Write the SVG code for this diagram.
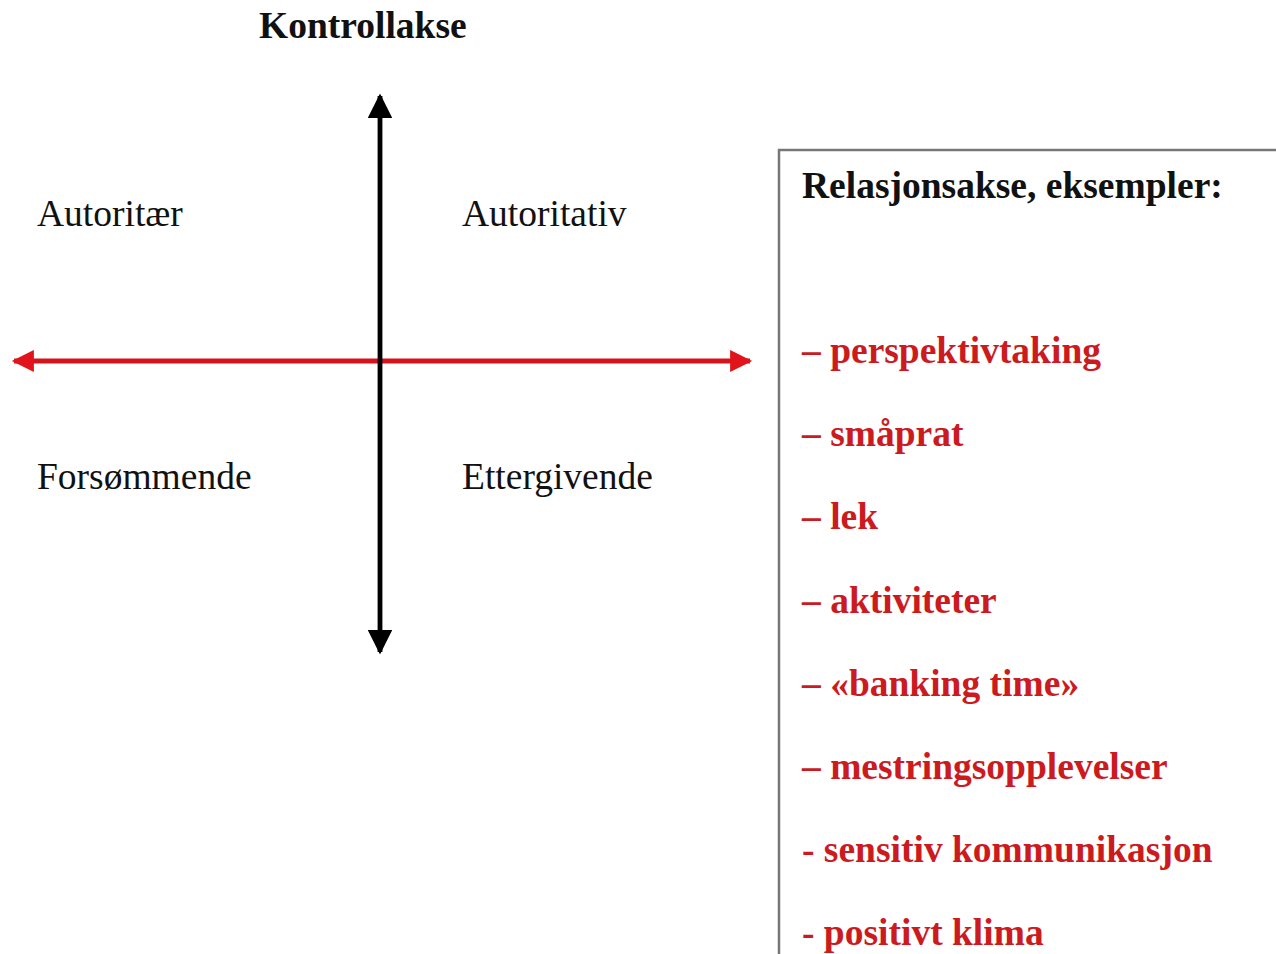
<svg xmlns="http://www.w3.org/2000/svg" width="1276" height="954" viewBox="0 0 1276 954">
<style>
.t{font-family:"Liberation Serif","Times New Roman",serif;font-size:37.5px;fill:#111}
.b{font-weight:bold}
.r{font-family:"Liberation Serif","Times New Roman",serif;font-size:37.5px;font-weight:bold;fill:#cc1b1f}
</style>
<defs>
<marker id="ab" viewBox="0 0 10 10" refX="9" refY="5" markerWidth="5.2" markerHeight="5.2" orient="auto-start-reverse" markerUnits="strokeWidth"><path d="M0,0 L10,5 L0,10 z" fill="#000"/></marker>
<marker id="ar" viewBox="0 0 10 10" refX="9" refY="5" markerWidth="5" markerHeight="4.6" orient="auto-start-reverse" markerUnits="strokeWidth"><path d="M0,0 L10,5 L0,10 z" fill="#e0141a"/></marker>
</defs>
<rect width="1276" height="954" fill="#fff"/>
<g id="connectors">
<line x1="14" y1="361" x2="750" y2="361" stroke="#d4141a" stroke-width="4.8" marker-start="url(#ar)" marker-end="url(#ar)"/>
<line x1="380" y1="96" x2="380" y2="652" stroke="#000" stroke-width="4.8" marker-start="url(#ab)" marker-end="url(#ab)"/>
</g>
<g id="title"><text class="t b" x="259" y="38">Kontrollakse</text></g>
<g id="q1"><text class="t" x="37" y="226">Autoritær</text></g>
<g id="q2"><text class="t" x="462" y="226">Autoritativ</text></g>
<g id="q3"><text class="t" x="37" y="489">Forsømmende</text></g>
<g id="q4"><text class="t" x="462" y="489">Ettergivende</text></g>
<g id="relbox">
<path d="M1280,150 H779 V960" fill="none" stroke="#777" stroke-width="2.5"/>
<text class="t b" x="802" y="198">Relasjonsakse, eksempler:</text>
<text class="r" x="802" y="363">– perspektivtaking</text>
<text class="r" x="802" y="446">– småprat</text>
<text class="r" x="802" y="529">– lek</text>
<text class="r" x="802" y="613">– aktiviteter</text>
<text class="r" x="802" y="696">– «banking time»</text>
<text class="r" x="802" y="779">– mestringsopplevelser</text>
<text class="r" x="802" y="862">- sensitiv kommunikasjon</text>
<text class="r" x="802" y="945">- positivt klima</text>
</g>
</svg>
